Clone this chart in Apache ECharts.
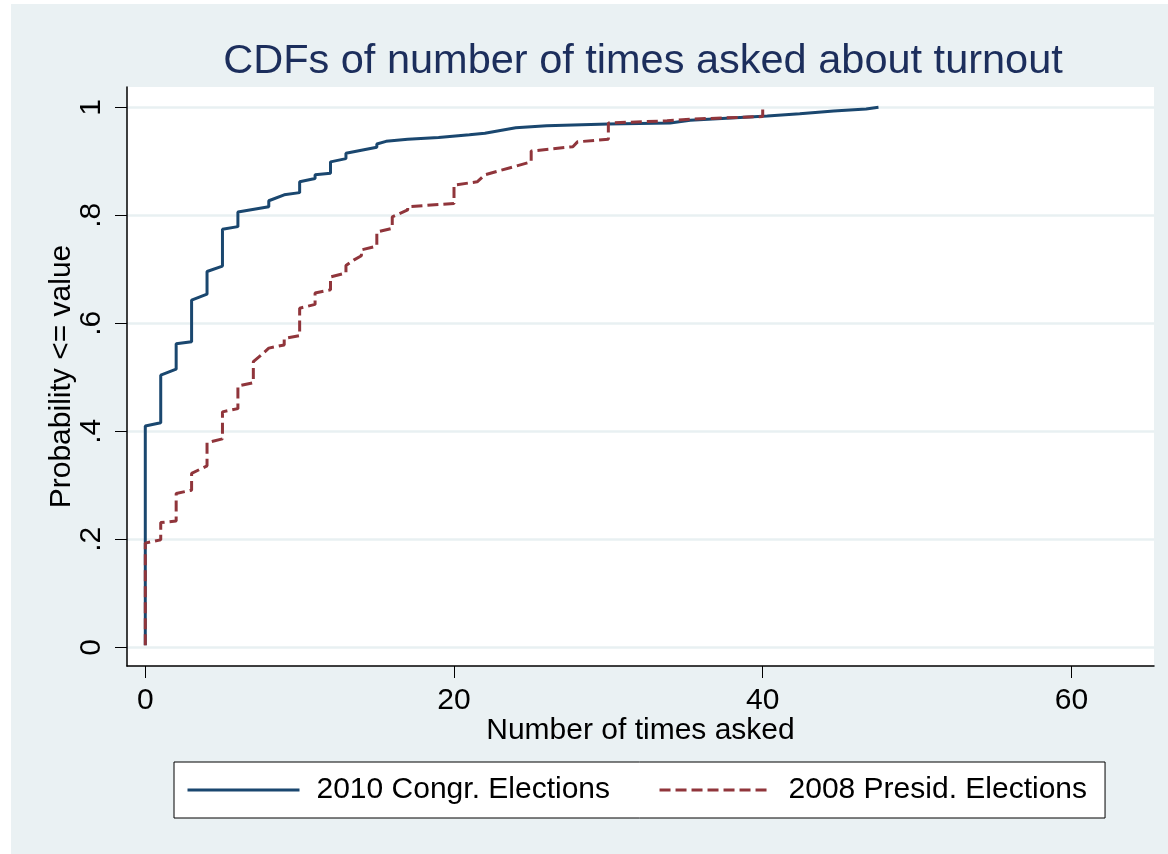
<!DOCTYPE html>
<html>
<head>
<meta charset="utf-8">
<script src="https://cdn.jsdelivr.net/npm/echarts@6/dist/echarts.min.js"></script>
<style>
  html, body { margin: 0; padding: 0; background: #fff; }
  #chart { position: absolute; left: 11px; top: 4px; width: 1157px; height: 850px; }
</style>
</head>
<body>
<div id="chart"></div>
<script>
// CDF points [times asked, probability]
const congr2010 = [
  [0, 0.004], [0, 0.410], [1, 0.416], [1, 0.504], [2, 0.515], [2, 0.562],
  [3, 0.566], [3, 0.643], [4, 0.654], [4, 0.696], [5, 0.706], [5, 0.774],
  [6, 0.779], [6, 0.806], [8, 0.816], [8, 0.827], [9, 0.838], [10, 0.842],
  [10, 0.862], [11, 0.868], [11, 0.875], [12, 0.878], [12, 0.899], [13, 0.905],
  [13, 0.915], [15, 0.926], [15, 0.932], [15.6, 0.937], [17, 0.941], [19, 0.944],
  [21, 0.949], [22, 0.952], [23, 0.957], [24, 0.962], [26, 0.966], [30, 0.969],
  [34, 0.971], [35.3, 0.976], [40.3, 0.984], [42.4, 0.988], [44.6, 0.993],
  [46.7, 0.997], [47.5, 1.0]
]
const presid2008 = [
  [0, 0.004], [0, 0.193], [1, 0.199], [1, 0.231], [2, 0.234], [2, 0.285],
  [3, 0.291], [3, 0.322], [4, 0.336], [4, 0.379], [5, 0.386], [5, 0.436],
  [6, 0.442], [6, 0.484], [7, 0.490], [7, 0.529], [7.5, 0.541], [8, 0.554],
  [9, 0.560], [9, 0.572], [10, 0.577], [10, 0.628], [11, 0.635], [11, 0.656],
  [12, 0.662], [12, 0.686], [13, 0.693], [13, 0.707], [13.5, 0.717], [14, 0.725],
  [14, 0.736], [15, 0.743], [15, 0.769], [16, 0.776], [16, 0.797], [17, 0.810],
  [17, 0.816], [20, 0.822], [20, 0.856], [21.5, 0.862], [22, 0.875], [25, 0.899],
  [25, 0.919], [27.7, 0.927], [28, 0.936], [30, 0.941], [30, 0.971], [33.8, 0.975],
  [35.3, 0.978], [40, 0.983], [40, 1.0]
]
const seriesNames = ['2010 Congr. Elections', '2008 Presid. Elections']
const xTicks = [0, 20, 40, 60]
const yTicks = [0, 0.2, 0.4, 0.6, 0.8, 1]

const FONT = 'Liberation Sans'
const chart = echarts.init(document.getElementById('chart'))

const option = {
  backgroundColor: '#EAF1F3',
  animation: false,
  title: {
    text: 'CDFs of number of times asked about turnout',
    left: 627,
    top: 32,
    textAlign: 'center',
    textStyle: { fontFamily: FONT, fontSize: 41.5, fontWeight: 'normal', color: '#1C2E5C' }
  },
  grid: {
    left: 116, top: 83, right: 14, bottom: 188,
    show: true, backgroundColor: '#fff', borderWidth: 0
  },
  xAxis: {
    type: 'value',
    min: -1.185,
    max: 65.35,
    name: 'Number of times asked',
    nameLocation: 'middle',
    nameGap: 50,
    nameMoveOverlap: false,
    nameTextStyle: { fontFamily: FONT, fontSize: 30, color: '#000' },
    axisLine: { onZero: false, lineStyle: { color: '#000', width: 1.5 } },
    axisTick: { customValues: xTicks, length: 12, lineStyle: { color: '#000', width: 1 } },
    axisLabel: { customValues: xTicks, margin: 20, fontFamily: FONT, fontSize: 30, color: '#000' },
    splitLine: { show: false }
  },
  yAxis: {
    type: 'value',
    min: -0.0346,
    max: 1.0376,
    name: 'Probability <= value',
    nameLocation: 'middle',
    nameGap: 50,
    nameMoveOverlap: false,
    nameTextStyle: { fontFamily: FONT, fontSize: 30, color: '#000' },
    axisLine: { show: true, onZero: false, lineStyle: { color: '#000', width: 1.5 } },
    axisTick: { show: true, customValues: yTicks, length: 12, lineStyle: { color: '#000', width: 1 } },
    axisLabel: {
      customValues: yTicks,
      rotate: 90,
      margin: 20,
      fontFamily: FONT,
      fontSize: 30,
      color: '#000',
      formatter: (v) => (v === 0 || v === 1 ? String(v) : String(+v.toFixed(1)).replace('0.', '.'))
    },
    splitLine: { show: true, lineStyle: { color: '#E8F0F2', width: 2.5 } }
  },
  legend: {
    left: 163,
    top: 758,
    orient: 'horizontal',
    padding: [13, 18, 13, 12],
    itemGap: 48,
    itemWidth: 112,
    itemHeight: 30,
    itemStyle: { opacity: 0 },
    lineStyle: { width: 3 },
    backgroundColor: '#fff',
    borderColor: '#000',
    borderWidth: 1,
    borderRadius: 0,
    textStyle: { fontFamily: FONT, fontSize: 30, color: '#000', padding: [0, 0, 0, 12] },
    data: seriesNames
  },
  series: [
    {
      name: seriesNames[0],
      type: 'line',
      data: congr2010,
      symbol: 'none',
      lineStyle: { color: '#1A476F', width: 3 },
      itemStyle: { color: '#1A476F' }
    },
    {
      name: seriesNames[1],
      type: 'line',
      data: presid2008,
      symbol: 'none',
      lineStyle: { color: '#90353B', width: 3, type: [11, 5] },
      itemStyle: { color: '#90353B' }
    }
  ]
}

chart.setOption(option)
</script>
</body>
</html>
